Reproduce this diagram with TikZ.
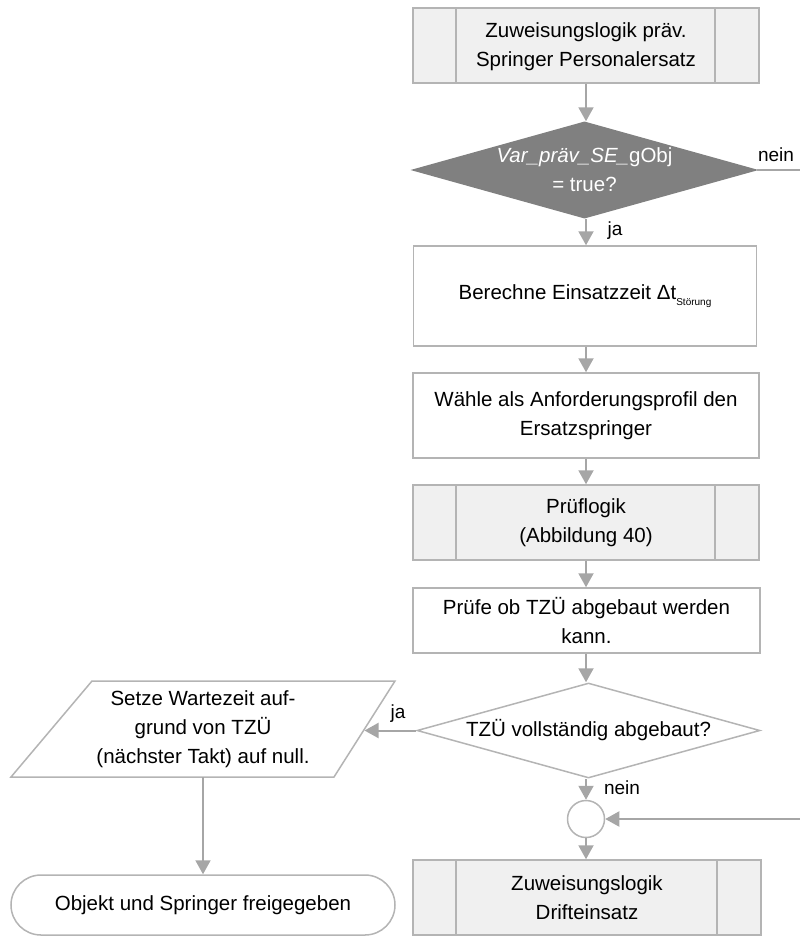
\documentclass[tikz,border=0pt]{standalone}
\usepackage{fontspec}
\setmainfont{Liberation Sans}
\usetikzlibrary{shapes.geometric,arrows.meta,calc}
\definecolor{linegray}{HTML}{A6A6A6}
\definecolor{boxgray}{HTML}{B4B4B4}
\definecolor{subfill}{HTML}{F0F0F0}
\definecolor{darkfill}{HTML}{808080}
\tikzset{
  x=1pt,y=-1pt,
  every node/.style={font=\fontsize{20.5}{29}\selectfont, align=center},
  box/.style={draw=boxgray, line width=1.5pt, fill=white, rectangle, inner sep=0pt},
  subproc/.style={box, fill=subfill,
    path picture={
      \draw[boxgray, line width=1.5pt]
        ([xshift=43pt]path picture bounding box.north west) -- ([xshift=43pt]path picture bounding box.south west)
        ([xshift=-44pt]path picture bounding box.north east) -- ([xshift=-44pt]path picture bounding box.south east);}},
  decision/.style={draw=boxgray, line width=1.5pt, diamond, inner sep=0pt, fill=white},
  conn/.style={draw=linegray, line width=2pt, -{Triangle[width=15pt,length=14pt]}},
  plain/.style={draw=linegray, line width=2pt},
  lbl/.style={font=\fontsize{19}{22}\selectfont, inner sep=0pt}
}
\begin{document}
\begin{tikzpicture}
\useasboundingbox (0,0) rectangle (800,937);

% main column
\node[subproc, minimum width=346pt, minimum height=75pt] (b1) at (586,45.5) {};
\node (b1t) at (586,47) {Zuweisungslogik präv.\\Springer Personalersatz};

\node[decision, fill=darkfill, draw=darkfill, minimum width=343pt, minimum height=96pt] (d1) at (584.5,170) {};
\node[text=white] (d1t) at (d1) {\textit{Var\_präv\_SE\_}gObj\\= true?};

\node[box, minimum width=343pt, minimum height=100pt] (b2) at (585,296) {};
\node (b2t) at (b2) {Berechne Einsatzzeit Δt\raisebox{-0.6ex}{\fontsize{10}{10}\selectfont Störung}};

\node[box, minimum width=346pt, minimum height=85pt] (b3) at (586,415.5) {};
\node (b3t) at (b3) {Wähle als Anforderungsprofil den\\Ersatzspringer};

\node[subproc, minimum width=346pt, minimum height=75pt] (b4) at (586,522.5) {};
\node (b4t) at (b4) {Prüflogik\\(Abbildung 40)};

\node[box, minimum width=347pt, minimum height=65pt] (b5) at (586.5,620.5) {};
\node (b5t) at (b5) {Prüfe ob TZÜ abgebaut werden\\kann.};

\node[decision, minimum width=343pt, minimum height=95pt] (d2) at (588.5,730.5) {};
\node (d2t) at (d2) {TZÜ vollständig abgebaut?};

\node[draw=boxgray, line width=1.5pt, circle, minimum size=37pt, inner sep=0pt, fill=white] (c1) at (586,819) {};

\node[subproc, minimum width=348pt, minimum height=75pt] (b6) at (587,897.5) {};
\node (b6t) at (b6) {Zuweisungslogik\\Drifteinsatz};

% left branch: parallelogram
\coordinate (pbl) at (11,777);
\coordinate (pbr) at (334,777);
\coordinate (ptr) at (395,681);
\coordinate (ptl) at (92,681);
\draw[draw=boxgray, line width=1.5pt, fill=white, line join=miter] (pbl) -- (pbr) -- (ptr) -- (ptl) -- cycle;
\coordinate (pe) at ($(pbr)!0.5!(ptr)$);
\coordinate (ps) at (203,777);
\node (p1t) at (203,729) {Setze Wartezeit auf-\\grund von TZÜ\\(nächster Takt) auf null.};

\node[draw=boxgray, line width=1.5pt, rectangle, rounded corners=30pt, minimum width=384pt, minimum height=60pt, inner sep=0pt, fill=white] (t1) at (203,905) {};
\node (t1t) at (t1) {Objekt und Springer freigegeben};

% free ends
\coordinate (r1) at (800,170);
\coordinate (r2) at (800,819);

% connectors
\draw[conn] (b1.south) -- (b1.south |- d1.north);
\draw[conn] (b1.south |- d1.south) -- (b1.south |- b2.north);
\draw[conn] (b1.south |- b2.south) -- (b1.south |- b3.north);
\draw[conn] (b3.south) -- (b4.north);
\draw[conn] (b4.south) -- (b5.north -| b4.south);
\draw[conn] (b4.south |- b5.south) -- (b4.south |- d2.north);
\draw[conn] (d2.west) -- (pe |- d2.west);
\draw[conn] (c1.north |- d2.south) -- (c1.north);
\draw[conn] (c1.south) -- (c1.south |- b6.north);
\draw[conn] (r2) -- (c1.east);
\draw[plain] (d1.east) -- (r1);
\draw[conn] (ps) -- (t1.north);

% labels
\node[lbl] (l1) at (776,155) {nein};
\node[lbl] (l2) at (615,231) {ja};
\node[lbl] (l3) at (398,714) {ja};
\node[lbl] (l4) at (622,788) {nein};
\end{tikzpicture}
\end{document}
